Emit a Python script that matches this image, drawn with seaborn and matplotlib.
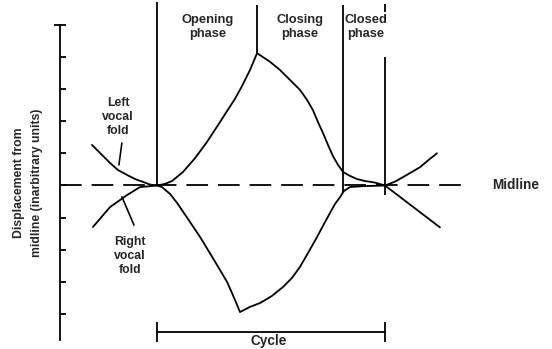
import numpy as np
import pandas as pd
import matplotlib
matplotlib.use("Agg")
import matplotlib.pyplot as plt
import seaborn as sns

# vocal fold displacement (time in arbitrary units, cycle = 0..10)
left_t = [-2.85, -2.5, -2.06, -1.71, -1.32, -0.96, -0.61, -0.31, 0.0,
          0.35, 0.66, 1.14, 1.67, 2.19, 2.68, 3.07, 3.42, 3.73, 4.08, 4.39,
          4.96, 5.39, 5.83, 6.27, 6.58, 6.84, 7.06, 7.28, 7.50, 7.72, 7.94, 8.16,
          8.46, 8.77, 9.12, 9.56, 10.0,
          10.44, 10.79, 11.18, 11.54, 11.89, 12.28]
left_y = [1.26, 1.01, 0.70, 0.48, 0.33, 0.20, 0.11, 0.03, 0.0,
          0.05, 0.14, 0.42, 0.85, 1.35, 1.88, 2.31, 2.69, 3.09, 3.59, 4.11,
          3.84, 3.59, 3.28, 2.97, 2.66, 2.34, 1.97, 1.63, 1.26, 0.91, 0.64, 0.42,
          0.30, 0.20, 0.14, 0.09, 0.0,
          0.12, 0.26, 0.42, 0.57, 0.78, 1.0]
right_t = [-2.81, -2.06, -1.32, -0.75, 0.0,
           0.22, 0.57, 0.88, 1.36, 1.89, 2.32, 2.76, 3.07, 3.29, 3.46, 3.64,
           4.08, 4.52, 5.04, 5.53, 5.92, 6.27, 6.62, 7.02, 7.32, 7.59, 7.81, 8.03,
           8.20, 8.46, 9.04, 10.0, 12.41]
right_y = [-1.29, -0.67, -0.30, -0.05, 0.0,
           -0.05, -0.26, -0.54, -1.04, -1.60, -2.10, -2.62, -2.99, -3.34, -3.62, -3.93,
           -3.77, -3.65, -3.43, -3.15, -2.87, -2.53, -2.10, -1.60, -1.20, -0.85, -0.57, -0.36,
           -0.17, -0.05, -0.02, 0.0, -1.3]

phase_names = ["Opening\nphase", "Closing\nphase", "Closed\nphase"]
phase_centers = [2.24, 6.27, 9.17]
phase_edges = [0.0, 4.39, 8.16, 10.0]
cycle_start, cycle_end = 0.0, 10.0

sns.set_style("white")
plt.rcParams["font.family"] = ["Liberation Sans", "DejaVu Sans"]
plt.rcParams["font.weight"] = "bold"

fig = plt.figure(figsize=(5.52, 3.49), dpi=100)
ax = fig.add_axes([0, 0, 1, 1])
ax.set_xlim(-6.886, 17.325)
ax.set_ylim(-5.078, 5.761)

lw = 1.3
folds = pd.concat([
    pd.DataFrame({"t": left_t, "y": left_y, "fold": "Left"}),
    pd.DataFrame({"t": right_t, "y": right_y, "fold": "Right"}),
])
sns.lineplot(data=folds, x="t", y="y", units="fold", estimator=None, sort=False,
             color="black", lw=lw, ax=ax, legend=False)

# midline
ax.plot([-4.25, 13.7], [0, 0], color="black", lw=lw, ls=(0, (12, 5.5)))
ax.text(14.69, 0, "Midline", fontsize=9.8, va="center", ha="left")

# phase boundaries
peak = max(left_y)
ax.vlines(phase_edges[0], 0, 5.7, color="black", lw=lw)
ax.vlines(phase_edges[1], peak, 5.6, color="black", lw=lw)
ax.vlines(phase_edges[2], -0.2, 5.6, color="black", lw=lw)
ax.vlines(phase_edges[3], 5.4, 5.63, color="black", lw=lw)
ax.vlines(phase_edges[3], -0.3, 3.99, color="black", lw=lw)
for name, c in zip(phase_names, phase_centers):
    ax.text(c, 4.92, name, fontsize=9.3, ha="center", va="center", linespacing=1.15)

# cycle bracket
ax.plot([cycle_start, cycle_end], [-4.55, -4.55], color="black", lw=lw)
ax.vlines([cycle_start, cycle_end], -4.86, -4.24, color="black", lw=lw)
ax.text(4.9, -4.83, "Cycle", fontsize=9.8, ha="center", va="center")

# fold labels with pointers
ax.text(-1.71, 2.12, "Left\nvocal\nfold", fontsize=8.8, ha="center", va="center", linespacing=1.25)
ax.plot([-1.54, -1.67], [1.32, 0.64], color="black", lw=lw * 0.9)
ax.text(-1.18, -2.19, "Right\nvocal\nfold", fontsize=8.8, ha="center", va="center", linespacing=1.25)
ax.plot([-1.54, -1.01], [-0.35, -1.23], color="black", lw=lw * 0.9)

# y axis as a spine inside the drawing
for s in ["top", "right", "bottom"]:
    ax.spines[s].set_visible(False)
ax.spines["left"].set_position(("data", -4.25))
ax.spines["left"].set_bounds(-4.8, 5.0)
ax.spines["left"].set_linewidth(lw)
ax.spines["left"].set_color("black")
ax.set_yticks(np.arange(-4, 5))
ax.set_yticks([5], minor=True)
ax.tick_params(axis="y", which="major", direction="in", length=4.5, width=lw,
               color="black", labelleft=False, left=True)
ax.tick_params(axis="y", which="minor", direction="inout", length=8, width=lw,
               color="black", left=True)
ax.set_xticks([])
ax.set_ylabel("")
ax.set_xlabel("")

ax.text(-5.66, 0.08, "Displacement from\nmidline (inarbitrary units)", rotation=90,
        fontsize=8.8, ha="center", va="center", linespacing=1.6)

fig.savefig("out.png", dpi=100)
